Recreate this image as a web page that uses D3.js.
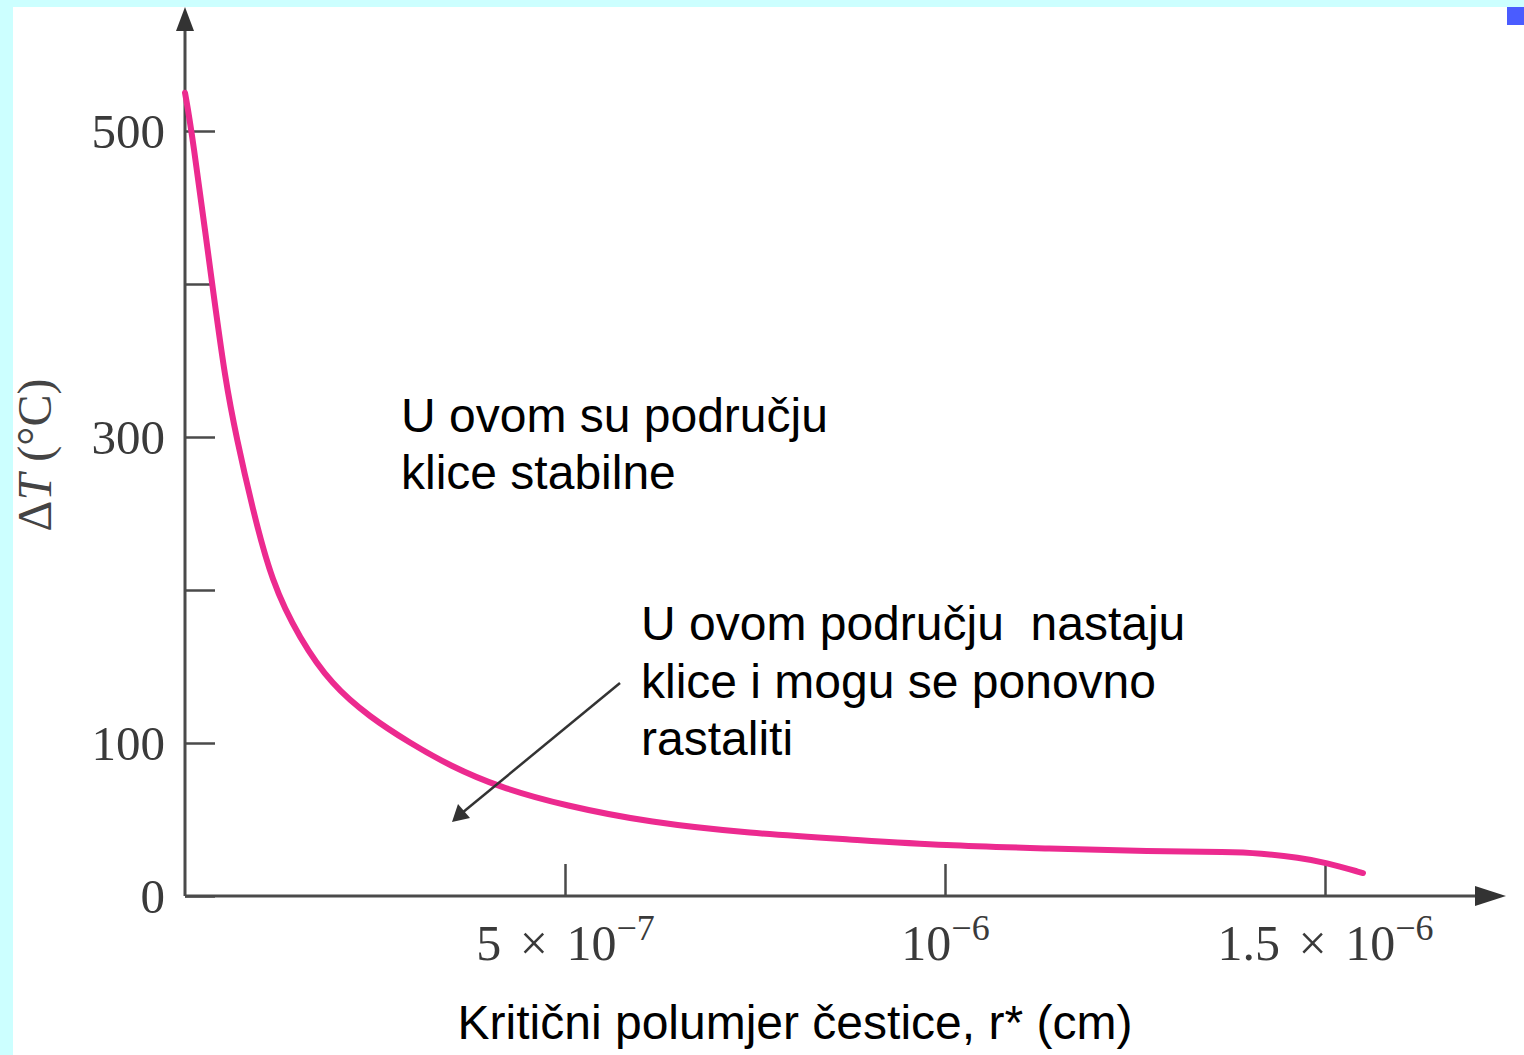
<!DOCTYPE html>
<html>
<head>
<meta charset="utf-8">
<script src="https://cdn.jsdelivr.net/npm/d3@7"></script>
<style>
  html, body { margin: 0; padding: 0; background: #fff; }
  svg { display: block; }
</style>
</head>
<body>
<svg></svg>
<script>
var width = 1524, height = 1055;

// critical radius r* (cm) and undercooling dT (deg C)
var radius = [0, 0.09e-7, 0.36e-7, 0.53e-7, 0.68e-7, 0.88e-7, 1.14e-7, 1.51e-7, 1.93e-7, 2.43e-7,
  2.96e-7, 3.49e-7, 4.14e-7, 5.0e-7, 6.12e-7, 7.43e-7, 8.75e-7, 10.0e-7, 11.38e-7, 12.7e-7,
  13.75e-7, 14.14e-7, 14.67e-7, 15.0e-7, 15.5e-7];
var deltaT = [525, 500, 399, 337, 299, 255, 205, 168, 138, 117,
  100, 85, 71, 59, 48, 41, 37, 33, 31, 29,
  29, 28, 25, 22, 15];

var yTicks = [0, 100, 200, 300, 400, 500];
var yTickLabels = ["0", "100", "", "300", "", "500"];
var xTicks = [5e-7, 1e-6, 1.5e-6];
var xTickBase = ["5 \u00d7 10", "10", "1.5 \u00d7 10"];
var xTickExp = ["\u22127", "\u22126", "\u22126"];

var note1 = ["U ovom su području", "klice stabilne"];
var note2 = ["U ovom području  nastaju", "klice i mogu se ponovno", "rastaliti"];
var xTitle = "Kritični polumjer čestice, r* (cm)";

var svg = d3.select("svg")
  .attr("width", width)
  .attr("height", height);

// slide background strips
svg.append("rect").attr("x", 0).attr("y", 0).attr("width", width).attr("height", height).attr("fill", "#ccffff");
svg.append("rect").attr("x", 13).attr("y", 7).attr("width", width - 13).attr("height", height - 7).attr("fill", "#fff");
svg.append("rect").attr("x", 1507).attr("y", 7).attr("width", 17).attr("height", 18).attr("fill", "#4a5cff");

var x = d3.scaleLinear().domain([0, 1.5e-6]).range([185, 1325]);
var y = d3.scaleLinear().domain([0, 500]).range([896, 131]);

var axisColor = "#4a4a4a";
var serif = "'Liberation Serif', 'DejaVu Serif', serif";

// y axis
var yAxis = svg.append("g")
  .attr("transform", "translate(" + x(0) + ",0)")
  .call(d3.axisLeft(y)
    .tickValues(yTicks)
    .tickSizeInner(-30)
    .tickSizeOuter(0)
    .tickPadding(20)
    .tickFormat(function(d, i){ return yTickLabels[i]; }));
yAxis.select(".domain").remove();
yAxis.selectAll(".tick line").attr("stroke", axisColor).attr("stroke-width", 2.5);
yAxis.selectAll(".tick text")
  .attr("font-family", serif)
  .attr("font-size", 49)
  .attr("fill", "#3a3a3a")
  .attr("dy", "0.34em");

// x axis
var xAxis = svg.append("g")
  .attr("transform", "translate(0," + y(0) + ")")
  .call(d3.axisBottom(x)
    .tickValues(xTicks)
    .tickSizeInner(-32)
    .tickSizeOuter(0)
    .tickFormat(""));
xAxis.select(".domain").remove();
xAxis.selectAll(".tick line").attr("stroke", axisColor).attr("stroke-width", 2.5);
xAxis.selectAll(".tick text").remove();
xAxis.selectAll(".tick").each(function(d, i){
  var t = d3.select(this).append("text")
    .attr("y", 64)
    .attr("text-anchor", "middle")
    .attr("font-family", serif)
    .attr("font-size", 50)
    .attr("fill", "#3a3a3a")
    .attr("word-spacing", 6);
  t.append("tspan").text(xTickBase[i]);
  t.append("tspan").attr("dy", -20).attr("font-size", 36).text(xTickExp[i]);
});

// axis lines with arrow heads
svg.append("line")
  .attr("x1", x(0)).attr("y1", y(0)).attr("x2", x(0)).attr("y2", 28)
  .attr("stroke", axisColor).attr("stroke-width", 3);
svg.append("path")
  .attr("d", "M" + x(0) + ",7 L" + (x(0) - 9) + ",31 L" + (x(0) + 9) + ",31 Z")
  .attr("fill", "#333");
svg.append("line")
  .attr("x1", x(0)).attr("y1", y(0)).attr("x2", 1480).attr("y2", y(0))
  .attr("stroke", axisColor).attr("stroke-width", 3);
svg.append("path")
  .attr("d", "M1506," + y(0) + " L1475," + (y(0) - 10) + " L1475," + (y(0) + 10) + " Z")
  .attr("fill", "#333");

// y axis title
var yt = svg.append("text")
  .attr("transform", "translate(51,455) rotate(-90)")
  .attr("text-anchor", "middle")
  .attr("font-family", serif)
  .attr("font-size", 48)
  .attr("fill", "#444");
yt.append("tspan").text("\u0394");
yt.append("tspan").attr("font-style", "italic").text("T");
yt.append("tspan").text(" (\u00b0C)");

// curve
var line = d3.line()
  .x(function(d){ return x(d[0]); })
  .y(function(d){ return y(d[1]); })
  .curve(d3.curveBasis);

svg.append("path")
  .datum(d3.zip(radius, deltaT))
  .attr("d", line)
  .attr("fill", "none")
  .attr("stroke", "#ec2a8f")
  .attr("stroke-width", 6)
  .attr("stroke-linecap", "round")
  .attr("stroke-linejoin", "round");

// annotation arrow
svg.append("line")
  .attr("x1", 620).attr("y1", 683).attr("x2", 462).attr("y2", 813)
  .attr("stroke", "#333").attr("stroke-width", 2.5);
svg.append("path")
  .attr("d", "M452,822 L458,804 L470,818 Z")
  .attr("fill", "#333");

// annotations
var sans = "'Liberation Sans', Arial, sans-serif";
svg.append("g").selectAll("text")
  .data(note1)
  .enter()
  .append("text")
  .attr("x", 401)
  .attr("y", function(d, i){ return 432 + i * 57; })
  .attr("font-family", sans)
  .attr("font-size", 48)
  .attr("fill", "#000")
  .text(function(d){ return d; });

svg.append("g").selectAll("text")
  .data(note2)
  .enter()
  .append("text")
  .attr("x", 641)
  .attr("y", function(d, i){ return 640 + i * 57.5; })
  .attr("font-family", sans)
  .attr("font-size", 48)
  .attr("fill", "#000")
  .style("white-space", "pre")
  .text(function(d){ return d; });

svg.append("text")
  .attr("x", 795)
  .attr("y", 1039)
  .attr("text-anchor", "middle")
  .attr("font-family", sans)
  .attr("font-size", 48)
  .attr("fill", "#000")
  .text(xTitle);
</script>
</body>
</html>
